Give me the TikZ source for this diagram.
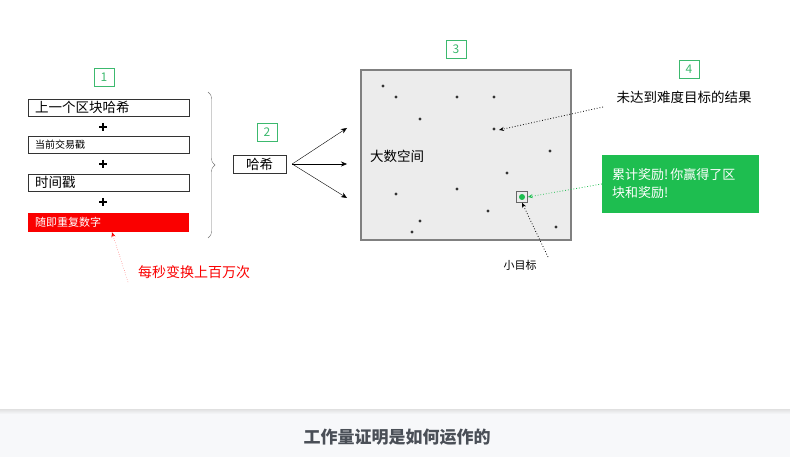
\documentclass[tikz,border=0pt]{standalone}
\usepackage{fontspec}
\setmainfont{Noto Sans CJK SC}
\usetikzlibrary{positioning,decorations.pathreplacing,arrows.meta}
\definecolor{labelgreen}{RGB}{60,185,110}
\definecolor{rewardgreen}{RGB}{30,190,80}
\definecolor{spacegray}{RGB}{236,236,236}
\definecolor{noncered}{RGB}{250,0,0}
\definecolor{captiongray}{RGB}{74,79,87}
\definecolor{bandgray}{RGB}{247,248,250}
\begin{document}
\begin{tikzpicture}[x=1pt,y=-1pt,
		every node/.style={inner sep=0pt},
		stepnum/.style={draw=labelgreen,text=labelgreen,minimum width=20pt,minimum height=18pt,font=\fontsize{12}{12}\selectfont},
		inbox/.style={draw=black!80,minimum width=161pt,minimum height=17pt,text width=147pt,align=left},
		plusmark/.style={minimum size=8pt,path picture={
				\draw[line width=2.6pt] (path picture bounding box.north) -- (path picture bounding box.south);
				\draw[line width=2.6pt] (path picture bounding box.west) -- (path picture bounding box.east);}},
		dot/.style={fill=black!80},
		hint/.style={dotted,thick,-{Stealth[length=5pt,width=4pt]}}]
		\useasboundingbox (0,0) rectangle (790,457);
		
		% inputs
		\node[stepnum] (s1) at (104,77.5) {1};
		\node[inbox,font=\fontsize{13.5}{13.5}\selectfont] (prevhash) at (108.5,107.5) {上一个区块哈希};
		\node[plusmark] (p1) at (103,127) {};
		\node[inbox,font=\fontsize{10}{10}\selectfont] (txstamp) at (108.5,145) {当前交易戳};
		\node[plusmark] (p2) at (103,164) {};
		\node[inbox,font=\fontsize{13.5}{13.5}\selectfont] (timestamp) at (108.5,182.5) {时间戳};
		\node[plusmark] (p3) at (103,202) {};
		\node[inbox,draw=none,fill=noncered,text=white,minimum height=19pt,font=\fontsize{11}{11}\selectfont] (nonce) at (108.5,222.5) {随即重复数字};
		\draw[black!55,decorate,decoration={brace,amplitude=7pt}] (208,92) -- (208,238);
		\node[text=noncered,anchor=west,font=\fontsize{14}{14}\selectfont] (rate) at (138,272) {每秒变换上百万次};
		\coordinate (ratefoot) at (128,282);
		\draw[hint,noncered,thin] (ratefoot) -- ([xshift=3.5pt]nonce.south);
		
		% hash
		\node[stepnum] (s2) at (267,132) {2};
		\node[draw=black!80,minimum width=53pt,minimum height=18pt,font=\fontsize{13.5}{13.5}\selectfont] (hash) at (259.5,164) {哈希};
		
		% big number space
		\node[stepnum] (s3) at (456,49) {3};
		\node[draw=black!50,fill=spacegray,line width=1.2pt,minimum width=210pt,minimum height=170pt] (space) at (466,155) {};
		\node[anchor=west,font=\fontsize{13.5}{13.5}\selectfont] (spacename) at (370,156) {大数空间};
		\coordinate (h1) at (347,128);
		\coordinate (h2) at (347,164);
		\coordinate (h3) at (347,198);
		\foreach \t in {h1,h2,h3}
			\draw[-{Stealth[length=6pt,width=5pt]}] ([xshift=6pt]hash.east) -- (\t);
		\foreach \p in {(383,86),(396,97),(457,97),(494,97),(420,119),(550,151),(507,173),(396,194),(457,189),(488,211),(420,221),(412,232),(556,227)}
			\fill[dot] \p circle (1.6pt);
		\coordinate (miss) at (494,129);
		\fill[dot] (miss) circle (1.6pt);
		\node[draw=black!60,fill=spacegray,minimum size=11pt] (target) at (522,197) {};
		\fill[rewardgreen] (target.center) circle (3pt);
		
		% results
		\node[stepnum] (s4) at (689,69) {4};
		\node[font=\fontsize{13.5}{13.5}\selectfont] (missnote) at (684,97) {未达到难度目标的结果};
		\coordinate (missfoot) at (603,107);
		\draw[hint] (missfoot) -- ([xshift=5pt,yshift=-1pt]miss);
		\node[fill=rewardgreen,text=white,minimum width=157pt,minimum height=58pt,text width=137pt,align=left,font=\fontsize{13}{18}\selectfont] (reward) at (680.5,184) {累计奖励!\,你赢得了区\\块和奖励!};
		\draw[hint,rewardgreen] (reward.west) -- (target.east);
		\node[font=\fontsize{11}{11}\selectfont] (goal) at (520,265) {小目标};
		\coordinate (goalfoot) at (548,257);
		\draw[hint] (goalfoot) -- (target.south);
		
		% caption band
		\fill[bandgray] (0,410) rectangle (790,457);
		\shade[top color=black!12,bottom color=bandgray] (0,409) rectangle (790,414);
		\node[text=captiongray,font=\fontsize{17}{17}\selectfont\bfseries] (caption) at (397,437) {工作量证明是如何运作的};
\end{tikzpicture}
\end{document}
